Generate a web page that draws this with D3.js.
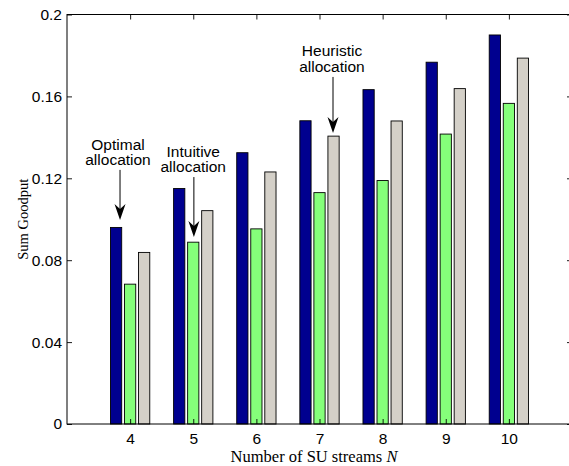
<!DOCTYPE html>
<html><head><meta charset="utf-8">
<script src="https://cdn.jsdelivr.net/npm/d3@7"></script>
<style>body{margin:0;background:#fff;} svg{display:block;}</style>
</head><body>
<svg id="chart" width="569" height="466"></svg>
<script>
const categories = [4, 5, 6, 7, 8, 9, 10];
const optimal   = [0.0960, 0.1150, 0.1325, 0.1481, 0.1633, 0.1767, 0.1900];
const intuitive = [0.0683, 0.0888, 0.0953, 0.1130, 0.1189, 0.1416, 0.1566];
const heuristic = [0.0838, 0.1042, 0.1231, 0.1406, 0.1480, 0.1638, 0.1787];
const seriesNames = ["Optimal allocation", "Intuitive allocation", "Heuristic allocation"];
const seriesColors = ["#00008f", "#85ff7a", "#d4d0c8"];
const yTicks = [0, 0.04, 0.08, 0.12, 0.16, 0.2];
const yTickLabels = ["0", "0.04", "0.08", "0.12", "0.16", "0.2"];
// annotations in data coordinates: arrow x, tail y, tip y, text centre x
const annLines = [["Optimal", "allocation"], ["Intuitive", "allocation"], ["Heuristic", "allocation"]];
const annArrowX = [3.84, 5.01, 7.214];
const annTailY  = [0.1241, 0.1206, 0.1695];
const annTipY   = [0.0996, 0.0913, 0.1421];
const annTextX  = [3.808, 5.0, 7.198];
const annBaseY  = [0.1264, 0.1230, 0.1720]; // baseline of 2nd line

const series = [optimal, intuitive, heuristic];
const svg = d3.select("#chart");
const L = 67, R = 572, T = 14.5, B = 424;
const x = d3.scaleLinear().domain([3, 11]).range([L, R]);
const y = d3.scaleLinear().domain([0, 0.2]).range([B, T]);

const slot = 0.667 / 3;
const bw = slot * 0.8;
const g = svg.append("g");
series.forEach((vals, si) => {
  g.selectAll(".b" + si).data(categories).enter().append("rect")
    .attr("x", (d, i) => x(d + (si - 1) * slot - bw / 2))
    .attr("y", (d, i) => y(vals[i]))
    .attr("width", x(bw) - x(0))
    .attr("height", (d, i) => y(0) - y(vals[i]))
    .attr("fill", seriesColors[si])
    .attr("stroke", "#000").attr("stroke-width", 0.9);
});

// axes
const tickFont = "Liberation Sans, Arial, Helvetica, sans-serif";
const ax = svg.append("g").attr("stroke", "#000").attr("fill", "none");
ax.append("rect").attr("x", L).attr("y", T).attr("width", R - L).attr("height", B - T).attr("stroke-width", 1);
const axL = d3.axisLeft(y).tickValues(yTicks).tickFormat((d, i) => yTickLabels[i]).tickSizeInner(-5).tickSizeOuter(0).tickPadding(5);
const axR = d3.axisRight(y).tickValues(yTicks).tickFormat("").tickSizeInner(-5).tickSizeOuter(0);
const axB = d3.axisBottom(x).tickValues(categories).tickFormat(d3.format("d")).tickSizeInner(-5).tickSizeOuter(0).tickPadding(9);
const axT = d3.axisTop(x).tickValues(categories).tickFormat("").tickSizeInner(-5).tickSizeOuter(0);
[[axL, `translate(${L},0)`], [axR, `translate(${R},0)`], [axB, `translate(0,${B})`], [axT, `translate(0,${T})`]].forEach(([a, t]) => {
  const gg = svg.append("g").attr("transform", t).call(a);
  gg.select(".domain").remove();
  gg.selectAll("line").attr("stroke", "#000").attr("stroke-width", 0.9);
  gg.selectAll("text").attr("font-family", tickFont).attr("font-size", "15.5px").attr("fill", "#000");
});

// axis labels
svg.append("text").attr("x", 314).attr("y", 462).attr("text-anchor", "middle")
  .attr("font-family", "Liberation Serif, Times New Roman, serif").attr("font-size", "16.5px")
  .text("Number of SU streams ").append("tspan").attr("font-style", "italic").text("N");
svg.append("text").attr("transform", `translate(28,${(T + B) / 2}) rotate(-90)`).attr("text-anchor", "middle")
  .attr("font-family", "Liberation Serif, Times New Roman, serif").attr("font-size", "14.5px")
  .text("Sum Goodput");

// annotations
annLines.forEach((lines, k) => {
  const t = svg.append("text").attr("text-anchor", "middle")
    .attr("font-family", tickFont).attr("font-size", "15.5px").attr("fill", "#000");
  const by = y(annBaseY[k]);
  t.append("tspan").attr("x", x(annTextX[k])).attr("y", by - 15.5).text(lines[0]);
  t.append("tspan").attr("x", x(annTextX[k])).attr("y", by).text(lines[1]);
  const ax0 = x(annArrowX[k]), y0 = y(annTailY[k]), y1 = y(annTipY[k]);
  svg.append("line").attr("x1", ax0).attr("x2", ax0).attr("y1", y0).attr("y2", y1 - 8)
    .attr("stroke", "#000").attr("stroke-width", 1);
  const hw = 5.5, hl = 16;
  svg.append("path")
    .attr("d", `M${ax0},${y1} L${ax0 - hw},${y1 - hl} L${ax0},${y1 - hl + 5} L${ax0 + hw},${y1 - hl} Z`)
    .attr("fill", "#000");
});
</script>
</body></html>
